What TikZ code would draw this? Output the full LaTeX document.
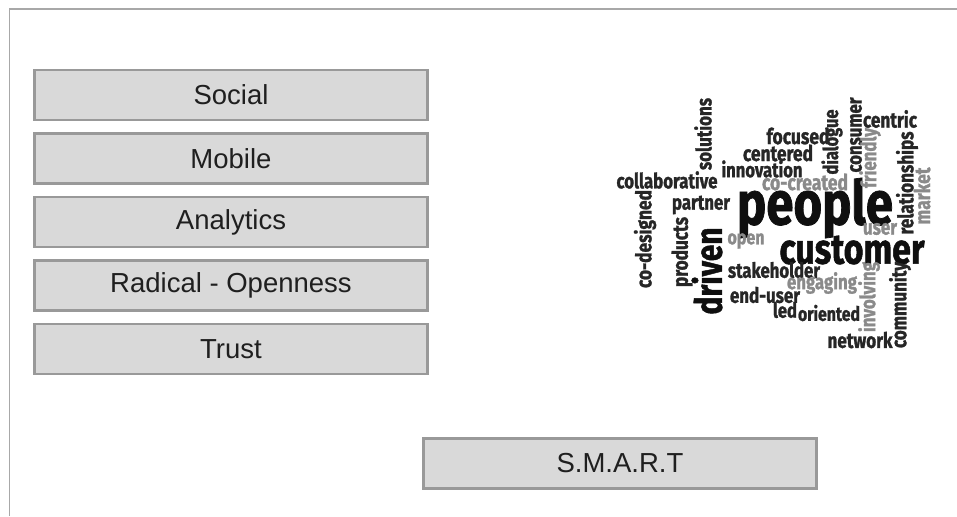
\documentclass[tikz,border=0pt]{standalone}
\usepackage{fontspec}
\usepackage{graphicx}
\newfontfamily\boxfont{Liberation Sans}
\newfontfamily\wcfont{Fira Sans}[FakeStretch=0.8, BoldFeatures={FakeBold=1.2}]
\definecolor{boxfill}{HTML}{D9D9D9}
\definecolor{boxline}{HTML}{999999}
\definecolor{frameline}{HTML}{A8A8A8}
\definecolor{wcdark}{HTML}{262626}
\definecolor{wcblack}{HTML}{0F0F0F}
\definecolor{wcgray}{HTML}{8A8A8A}
\newcommand\wcw[2]{\resizebox{#1pt}{!}{\wcfont\bfseries #2}}
\tikzset{
  x=1pt, y=-1pt,
  topbox/.style={draw=boxline, line width=2.8pt, fill=boxfill,
    minimum width=393pt, minimum height=50pt, inner sep=0pt,
    font=\boxfont\fontsize{27.5}{32}\selectfont, text=black!88},
  wc/.style={inner sep=0pt, text=wcdark},
  wcg/.style={inner sep=0pt, text=wcgray},
  wcb/.style={inner sep=0pt, text=wcblack},
  vert/.style={rotate=90}
}
\begin{document}
\begin{tikzpicture}
\useasboundingbox (0,0) rectangle (957,516);
\fill[white] (0,0) rectangle (957,516);
% frame
\coordinate (fa) at (9.5,516);
\coordinate (fb) at (9.5,9);
\coordinate (fc) at (957,9);
\draw[frameline, line width=1.4pt] (fa) -- (fb) -- (fc);
% boxes
\node[topbox] (social) at (231,95) {Social};
\node[topbox] (mobile) at (231,158.5) {Mobile};
\node[topbox] (analytics) at (231,222) {Analytics};
\node[topbox] (radical) at (231,285.5) {Radical - Openness};
\node[topbox] (trust) at (231,349) {Trust};
\node[topbox] (smart) at (620,463.5) {S.M.A.R.T};
% word cloud
\node[wc,vert] (w1) at (703,134) {\wcw{72}{solutions}};
\node[wc] (w2) at (667,180) {\wcw{101}{collaborative}};
\node[wc,vert] (w3) at (645,239) {\wcw{98}{co-designed}};
\node[wc] (w4) at (701,205) {\wcw{58}{partner}};
\node[wc,vert] (w5) at (682,252) {\wcw{70}{products}};
\node[wcb,vert] (w6) at (707,271) {\wcw{87}{driven}};
\node[wcb] (w7) at (815,208) {\wcw{156}{people}};
\node[wcb] (w8) at (852,250) {\wcw{145}{customer}};
\node[wc] (w9) at (798,136) {\wcw{63}{focused}};
\node[wc] (w10) at (778,153) {\wcw{70}{centered}};
\node[wc] (w11) at (762,169) {\wcw{81}{innovation}};
\node[wcg] (w12) at (805,182) {\wcw{86}{co-created}};
\node[wc,vert] (w13) at (832,142) {\wcw{65}{dialogue}};
\node[wc,vert] (w14) at (856,135) {\wcw{75}{consumer}};
\node[wc] (w15) at (890,119) {\wcw{54}{centric}};
\node[wcg,vert] (w16) at (870,158) {\wcw{60}{friendly}};
\node[wc,vert] (w17) at (907,183) {\wcw{103}{relationships}};
\node[wcg,vert] (w18) at (922,196) {\wcw{57}{market}};
\node[wcg] (w19) at (880,229) {\wcw{34}{user}};
\node[wcg] (w20) at (746,241) {\wcw{37}{open}};
\node[wc] (w21) at (774,270) {\wcw{92}{stakeholder}};
\node[wcg] (w22) at (822,283) {\wcw{70}{engaging}};
\node[wc] (w23) at (765,295) {\wcw{70}{end-user}};
\node[wc] (w24) at (785,310) {\wcw{24}{led}};
\node[wc] (w25) at (829,313) {\wcw{62}{oriented}};
\node[wcg,vert] (w26) at (869,297) {\wcw{70}{involving}};
\node[wc,vert] (w27) at (900,305) {\wcw{86}{community}};
\node[wc] (w28) at (860,340) {\wcw{65}{network}};
\end{tikzpicture}
\end{document}
